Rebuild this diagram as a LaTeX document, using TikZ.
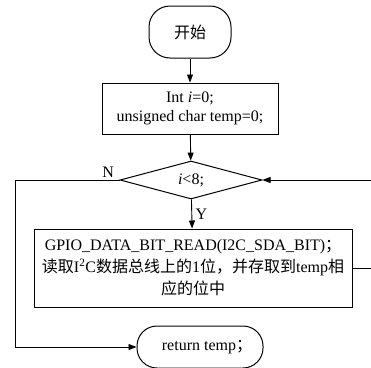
\documentclass[tikz,border=0pt]{standalone}
\usepackage{fontspec}
\setmainfont{Liberation Serif}
\newfontfamily\cjk{Noto Sans CJK SC}
\usetikzlibrary{arrows.meta}
\usetikzlibrary{shapes.geometric}

\tikzset{
	flowline/.style={line width=0.9pt,-{Triangle[length=8pt,width=6pt]}},
	terminal/.style={draw,line width=1pt,rounded corners=21pt,minimum width=82pt,minimum height=52pt,inner sep=2pt},
	procbox/.style={draw,line width=1pt,align=center,inner sep=3pt},
	decision/.style={draw,diamond,aspect=3.7,line width=1pt,minimum width=142pt,minimum height=38pt,inner sep=0pt},
}

\begin{document}
\begin{tikzpicture}[x=1pt,y=-1pt,font=\fontsize{16}{19}\selectfont]
	\useasboundingbox (0,0) rectangle (371,367);

	% -- Blocks
	\node[terminal] (start) at (190,32) {\cjk 开始};
	\node[procbox,minimum width=176pt,minimum height=51pt] (init) at (190,108.5)
		{Int \textit{i}=0;\\unsigned char temp=0;};
	\node[decision] (cond) at (191,180) {\textit{i}<8;};
	\node[procbox,minimum width=318pt,minimum height=78pt,font=\fontsize{16}{22}\selectfont] (body) at (193,268)
		{GPIO\_DATA\_BIT\_READ(I2C\_SDA\_BIT){\cjk ；}\\
		{\cjk 读取}I\textsuperscript{2}C{\cjk 数据总线上的}1{\cjk 位，并存取到}temp{\cjk 相}\\
		{\cjk 应的位中}};
	\node[terminal,minimum width=126pt,minimum height=42pt,rounded corners=20pt] (ret) at (200,347)
		{\hspace*{14pt}return temp{\cjk ；}};

	% -- Loop ends
	\coordinate (nback) at (15,347);
	\coordinate (yback) at (385,268);

	% -- Connectors
	\draw[flowline] (start) -- (init);
	\draw[flowline] (init) -- (cond);
	\draw[flowline] (cond) -- node[right,midway]{Y} (body);
	\draw[flowline] (cond.west) node[above left,xshift=-3pt,inner sep=2pt]{N} -| (nback) -- (ret.west);
	\draw[flowline] (body.east) -- (yback) |- (cond.east);
\end{tikzpicture}
\end{document}
